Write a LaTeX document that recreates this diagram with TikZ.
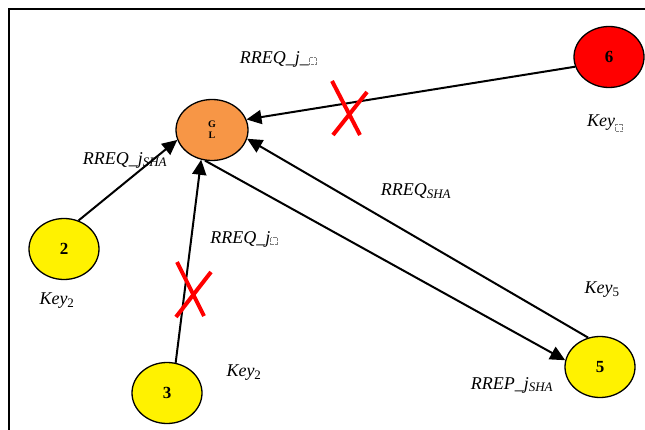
\documentclass[tikz,border=0pt]{standalone}
\usepackage{fontspec}
\setmainfont{Liberation Serif}
\usetikzlibrary{arrows.meta,shapes.geometric}
\definecolor{glorange}{HTML}{F79646}
\newcommand\missbox{\raisebox{-1.5pt}{\tikz\draw[densely dotted,line width=0.3pt,gray] (0,0) rectangle (7pt,7pt);}}
\newcommand\lsub[1]{\textsubscript{\fontsize{13}{13}\selectfont #1}}
\tikzset{
  nd/.style={ellipse,draw=black,line width=1.3pt,minimum width=70pt,minimum height=61pt,inner sep=0pt,font=\fontsize{17}{17}\selectfont\bfseries},
  glnode/.style={nd,fill=glorange,minimum width=72pt,minimum height=61pt,font=\fontsize{10}{11}\selectfont\bfseries,align=center},
  yel/.style={nd,fill=yellow},
  rednd/.style={nd,fill=red},
  arr/.style={line width=2pt,-{Triangle[length=15pt,width=14pt]}},
  lab/.style={font=\fontsize{18}{18}\selectfont\itshape,inner sep=0pt},
  xmark/.style={red,line width=4pt}
}
\begin{document}
\begin{tikzpicture}[x=1pt,y=-1pt]
\useasboundingbox (0,0) rectangle (645,430);
\draw[line width=1.5pt] (9,440) -- (9,9) -- (660,9);
\node[glnode] (gl) at (212,130) {G\\L};
\node[rednd] (n6) at (609,57) {6};
\node[yel] (n2) at (64,249) {2};
\node[yel] (n3) at (167,393) {3};
\node[yel] (n5) at (600,367) {5};
\draw[arr] (n6.196) -- (gl.17);
\draw[arr] (n2.63) -- (gl.196);
\draw[arr] (n3.74) -- (gl.250);
\draw[arr] (gl.257) -- (n5.169);
\draw[arr] (n5.112) -- (gl.346);
% red crosses
\draw[xmark] (332,81) -- (360,135);
\draw[xmark] (367,92) -- (333,135);
\draw[xmark] (177,262) -- (204,316);
\draw[xmark] (211,272) -- (176,317);
% labels
\node[lab] (l1) at (278,59) {RREQ\_j\_\missbox};
\node[lab] (l2) at (605,123) {Key\lsub{\missbox}};
\node[lab] (l3) at (125,160) {RREQ\_j\lsub{SHA}};
\node[lab] (l4) at (57,301) {Key\lsub{\upshape 2}};
\node[lab] (l5) at (244,239) {RREQ\_j\missbox};
\node[lab] (l6) at (244,373) {Key\lsub{\upshape 2}};
\node[lab] (l7) at (416,191) {RREQ\lsub{SHA}};
\node[lab] (l8) at (602,290) {Key\lsub{\upshape 5}};
\node[lab] (l9) at (512,385) {RREP\_j\lsub{SHA}};
\end{tikzpicture}
\end{document}
